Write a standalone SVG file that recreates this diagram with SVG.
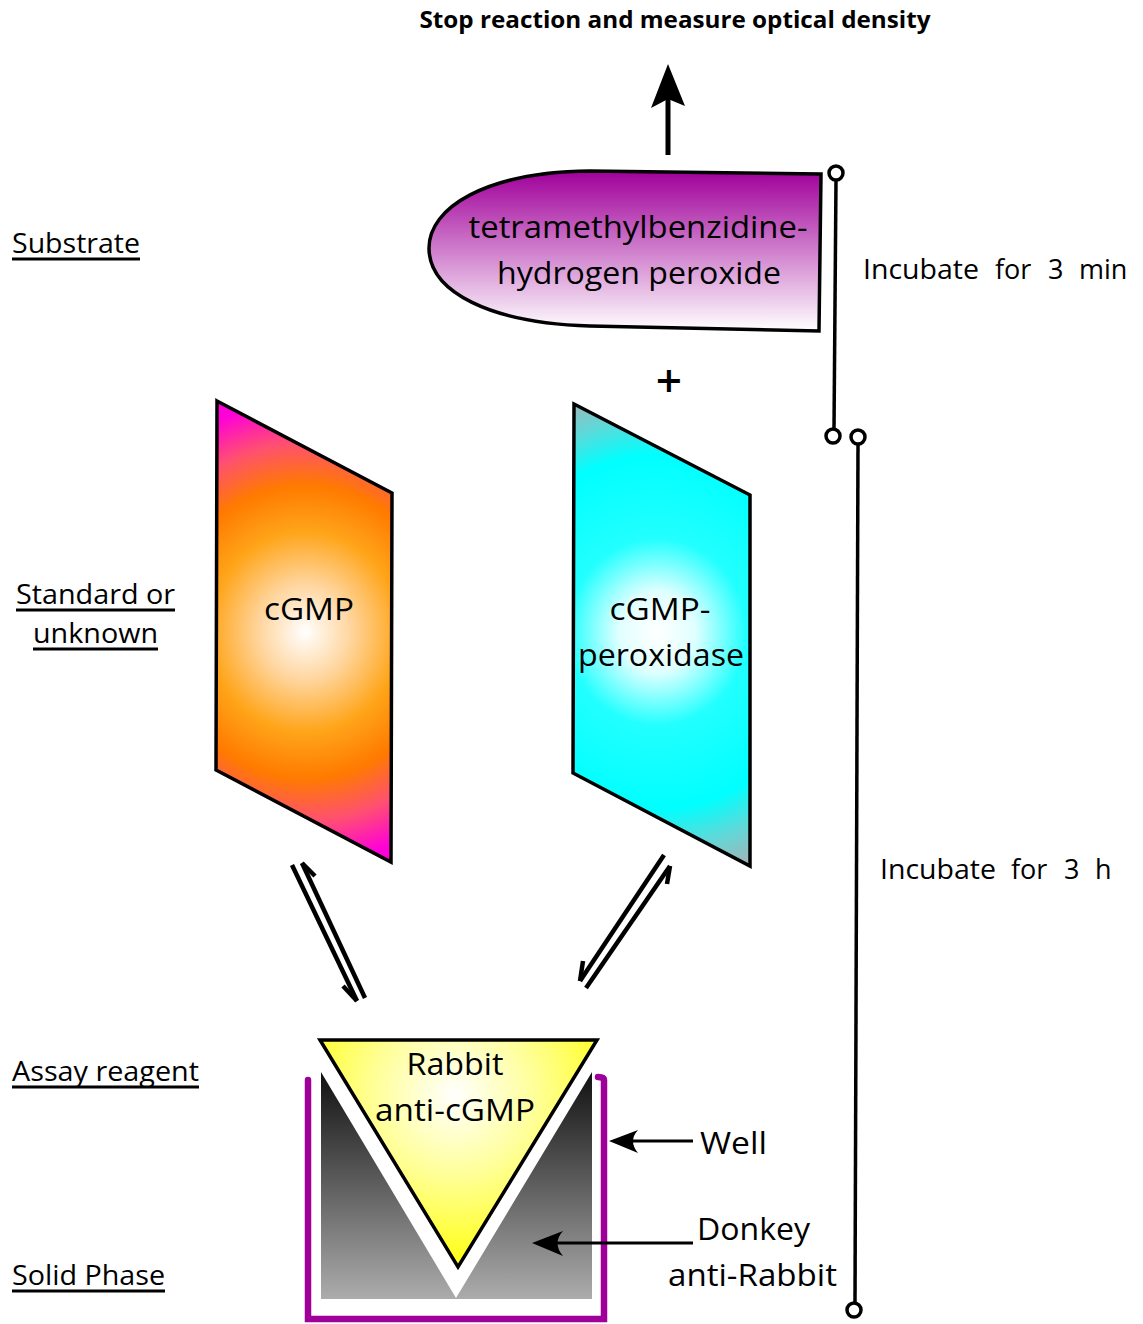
<svg xmlns="http://www.w3.org/2000/svg" width="1143" height="1324" viewBox="0 0 1143 1324">
<style>
text{font-family:"Open Sans","Noto Sans","Liberation Sans",sans-serif;fill:#000}
.lbl{font-size:27px}
.big{font-size:31px}
.ul{stroke:#000;stroke-width:3}
.eq{stroke:#000;stroke-width:4.5;fill:none;stroke-linecap:butt}
.tl{stroke:#000;stroke-width:3.5;fill:none}
.dot{stroke:#000;stroke-width:3.5;fill:#fff}
.shape{stroke:#000;stroke-width:3.5}
</style>
<defs>
<radialGradient id="gOrange" gradientUnits="userSpaceOnUse" cx="305" cy="632" r="250" gradientTransform="translate(305 632) scale(1 1.05) translate(-305 -632)">
<stop offset="0" stop-color="#ffffff"/>
<stop offset="0.18" stop-color="#ffd6a0"/>
<stop offset="0.38" stop-color="#ffa51a"/>
<stop offset="0.56" stop-color="#ff7a00"/>
<stop offset="0.72" stop-color="#ff5070"/>
<stop offset="0.88" stop-color="#ff00d8"/>
</radialGradient>
<radialGradient id="gCyan" gradientUnits="userSpaceOnUse" cx="657" cy="632" r="255" gradientTransform="translate(657 632) scale(1 1.05) translate(-657 -632)">
<stop offset="0" stop-color="#ffffff"/>
<stop offset="0.15" stop-color="#e0ffff"/>
<stop offset="0.35" stop-color="#22ffff"/>
<stop offset="0.66" stop-color="#00ffff"/>
<stop offset="0.8" stop-color="#60d8d8"/>
<stop offset="0.93" stop-color="#a0b6b8"/>
</radialGradient>
<linearGradient id="gPurple" x1="0" y1="0" x2="0" y2="1">
<stop offset="0" stop-color="#a0009a"/>
<stop offset="1" stop-color="#ffffff"/>
</linearGradient>
<radialGradient id="gYellow" gradientUnits="userSpaceOnUse" cx="455" cy="1095" r="160">
<stop offset="0" stop-color="#ffffff"/>
<stop offset="0.5" stop-color="#ffff99"/>
<stop offset="1" stop-color="#ffff22"/>
</radialGradient>
<linearGradient id="gGray" x1="0" y1="0" x2="0" y2="1">
<stop offset="0" stop-color="#111111"/>
<stop offset="1" stop-color="#acacac"/>
</linearGradient>
</defs>

<g id="title">
<text x="675" y="28" text-anchor="middle" font-size="24" font-weight="bold" textLength="511" lengthAdjust="spacingAndGlyphs">Stop reaction and measure optical density</text>
</g>

<g id="side-labels">
<text class="lbl" x="12" y="253" textLength="128" lengthAdjust="spacingAndGlyphs">Substrate</text>
<line class="ul" x1="12" y1="259" x2="140" y2="259"/>
<text class="lbl" x="16" y="604" textLength="159" lengthAdjust="spacingAndGlyphs">Standard or</text>
<line class="ul" x1="16" y1="610" x2="175" y2="610"/>
<text class="lbl" x="33" y="643" textLength="125" lengthAdjust="spacingAndGlyphs">unknown</text>
<line class="ul" x1="33" y1="649" x2="158" y2="649"/>
<text class="lbl" x="12" y="1081" textLength="187" lengthAdjust="spacingAndGlyphs">Assay reagent</text>
<line class="ul" x1="12" y1="1087" x2="199" y2="1087"/>
<text class="lbl" x="12" y="1285" textLength="153" lengthAdjust="spacingAndGlyphs">Solid Phase</text>
<line class="ul" x1="12" y1="1291" x2="165" y2="1291"/>
</g>

<g id="substrate">
<path class="shape" stroke-width="2" fill="url(#gPurple)" d="M821,174 L590,171 C485,172 429,208 429,248 C429,292 490,323 590,326 L819,331 Z"/>
<text class="big" x="638" y="238" text-anchor="middle" textLength="339" lengthAdjust="spacingAndGlyphs">tetramethylbenzidine-</text>
<text class="big" x="639" y="284" text-anchor="middle" textLength="284" lengthAdjust="spacingAndGlyphs">hydrogen peroxide</text>
</g>

<g id="plus">
<text x="669" y="397" text-anchor="middle" font-size="46" font-weight="600">+</text>
</g>

<g id="cgmp">
<polygon class="shape" fill="url(#gOrange)" points="217,401 392,493 391,862 216,770"/>
<text class="big" x="309" y="620" text-anchor="middle" textLength="90" lengthAdjust="spacingAndGlyphs">cGMP</text>
</g>

<g id="cgmp-peroxidase">
<polygon class="shape" fill="url(#gCyan)" points="574,404 750,495 750,866 573,773"/>
<text class="big" x="660" y="620" text-anchor="middle" textLength="101" lengthAdjust="spacingAndGlyphs">cGMP-</text>
<text class="big" x="661" y="666" text-anchor="middle" textLength="166" lengthAdjust="spacingAndGlyphs">peroxidase</text>
</g>

<g id="well">
<path d="M321,1072 L456,1298 L592,1072 L592,1299 L321,1299 Z" fill="url(#gGray)"/>
<path d="M308,1080 L308,1319 L604,1319 L604,1080 Q604,1077 598,1077" fill="none" stroke="#a0009a" stroke-width="6.5" stroke-linecap="round"/>
</g>

<g id="rabbit-anti-cgmp">
<polygon class="shape" fill="url(#gYellow)" points="320,1040 597,1040 458,1267"/>
<text class="big" x="455" y="1075" text-anchor="middle" textLength="97" lengthAdjust="spacingAndGlyphs">Rabbit</text>
<text class="big" x="455" y="1121" text-anchor="middle" textLength="160" lengthAdjust="spacingAndGlyphs">anti-cGMP</text>
</g>

<g id="well-label">
<text class="big" x="700" y="1154" textLength="67" lengthAdjust="spacingAndGlyphs">Well</text>
</g>
<g id="donkey-label">
<text class="big" x="697" y="1240" textLength="113" lengthAdjust="spacingAndGlyphs">Donkey</text>
<text class="big" x="668" y="1286" textLength="169" lengthAdjust="spacingAndGlyphs">anti-Rabbit</text>
</g>

<g id="incubation-labels">
<text class="lbl" y="279"><tspan x="863" textLength="116" lengthAdjust="spacingAndGlyphs">Incubate</tspan><tspan x="995">for</tspan><tspan x="1048">3</tspan><tspan x="1079">min</tspan></text>
<text class="lbl" y="879"><tspan x="880" textLength="116" lengthAdjust="spacingAndGlyphs">Incubate</tspan><tspan x="1011">for</tspan><tspan x="1064">3</tspan><tspan x="1095">h</tspan></text>
</g>

<g id="connectors">
<line x1="668" y1="155" x2="668" y2="96" stroke="#000" stroke-width="5"/>
<polygon points="668,64 651,108 668,99 685,106" fill="#000"/>
<line class="eq" x1="292" y1="865" x2="357" y2="1001"/>
<line class="eq" x1="343" y1="986" x2="357" y2="1001"/>
<line class="eq" x1="302" y1="863" x2="365" y2="998"/>
<line class="eq" x1="302" y1="863" x2="315" y2="876"/>
<line class="eq" x1="664" y1="855" x2="580" y2="981"/>
<line class="eq" x1="580" y1="981" x2="583" y2="961"/>
<line class="eq" x1="586" y1="988" x2="670" y2="866"/>
<line class="eq" x1="670" y1="866" x2="667" y2="884"/>
<line x1="693" y1="1141" x2="620" y2="1141" stroke="#000" stroke-width="3"/>
<path d="M609,1141 L638,1130 Q628,1141 638,1153 Z" fill="#000"/>
<line x1="693" y1="1243" x2="545" y2="1243" stroke="#000" stroke-width="3"/>
<path d="M532,1243 L563,1231 Q552,1243 563,1256 Z" fill="#000"/>
<line class="tl" x1="836" y1="180" x2="834" y2="429"/>
<line class="tl" x1="858" y1="444" x2="855" y2="1303"/>
<circle class="dot" cx="836" cy="173" r="7"/>
<circle class="dot" cx="833" cy="436" r="7"/>
<circle class="dot" cx="858" cy="437" r="7"/>
<circle class="dot" cx="854" cy="1310" r="7"/>
</g>
</svg>
